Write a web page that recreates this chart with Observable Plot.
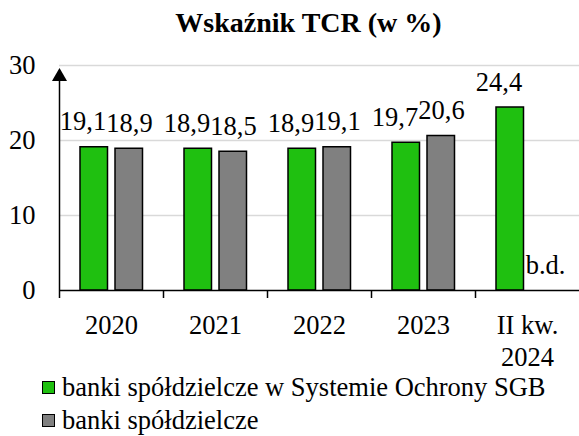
<!DOCTYPE html>
<html>
<head>
<meta charset="utf-8">
<script src="https://cdn.jsdelivr.net/npm/d3@7"></script>
<script src="https://cdn.jsdelivr.net/npm/@observablehq/plot@0.6"></script>
<style>
  html, body { margin: 0; padding: 0; background: #fff; }
  body { width: 579px; height: 436px; position: relative; overflow: hidden;
         font-family: "Liberation Serif", "Times New Roman", serif; color: #000; }
  #title { position: absolute; top: 3px; left: 38px; right: 0; text-align: center;
           font-weight: bold; font-size: 28px; line-height: 40px; }
  #chart { position: absolute; top: 48px; left: 0; }
  #legend { position: absolute; top: 371px; left: 42px; font-size: 26.5px; line-height: 33px; }
  .item { display: flex; align-items: center; white-space: nowrap; }
  .sw { width: 11px; height: 11px; border: 1.5px solid #000; margin-right: 7px; flex: none; }
</style>
</head>
<body>
<div id="title">Wskaźnik TCR (w %)</div>
<div id="chart"></div>
<div id="legend"></div>
<script>
const categories = ["2020", "2021", "2022", "2023", "II kw.\n2024"];
const sgbValues = [19.1, 18.9, 18.9, 19.7, 24.4];
const bankiValues = [18.9, 18.5, 19.1, 20.6, null];
const seriesNames = ["banki spółdzielcze w Systemie Ochrony SGB", "banki spółdzielcze"];
const seriesColors = ["#1fc010", "#808080"];
const yTicks = [0, 10, 20, 30];
const missingText = "b.d.";

const rows = categories.map((c, i) => ({category: c, sgb: sgbValues[i], banki: bankiValues[i]}));
const fmt = v => v.toFixed(1).replace(".", ",");
const font = '"Liberation Serif", "Times New Roman", serif';
const fs = 26.5;

const chart = Plot.plot({
  width: 579,
  height: 330,
  marginLeft: 59,
  marginRight: 0,
  marginTop: 17,
  marginBottom: 88,
  style: {fontFamily: font, fontSize: fs + "px", background: "white", color: "black"},
  x: {domain: categories, padding: 0, axis: null},
  y: {domain: [0, 30], axis: null},
  marks: [
    Plot.gridY(yTicks.filter(t => t > 0), {stroke: "#d9d9d9", strokeOpacity: 1, strokeWidth: 1.5}),
    Plot.barY(rows, {x: "category", y: "sgb", fill: seriesColors[0], stroke: "black", strokeWidth: 1.5,
                     insetLeft: 21, insetRight: 55.5}),
    Plot.barY(rows.filter(d => d.banki != null), {x: "category", y: "banki", fill: seriesColors[1],
                     stroke: "black", strokeWidth: 1.5, insetLeft: 56, insetRight: 20.5}),
    Plot.text(rows, {x: "category", y: "sgb", text: d => fmt(d.sgb), dx: -28.5, dy: -17,
                     lineAnchor: "bottom", fontSize: fs}),
    Plot.text(rows, {x: "category", y: d => d.banki ?? 0,
                     text: d => d.banki == null ? missingText : fmt(d.banki),
                     dx: 18, dy: -17, lineAnchor: "bottom", fontSize: fs}),
    Plot.ruleY([0], {stroke: "black", strokeWidth: 1.5}),
    Plot.ruleX([categories[0]], {dx: -52, y1: 0, y2: 28.5, stroke: "black", strokeWidth: 1.5}),
    Plot.dot([28.5], {y: d => d, frameAnchor: "left", symbol: "triangle", r: 5.6, fill: "black", stroke: null}),
    Plot.axisX({tickSize: 8, tickFormat: () => "", label: null, dx: -52, stroke: "black", strokeWidth: 1.5}),
    Plot.axisX({tickSize: 0, tickPadding: 20.5, label: null, fontSize: fs, lineHeight: 1.22}),
    Plot.axisY({ticks: yTicks, tickSize: 0, tickPadding: 24, label: null, fontSize: fs})
  ]
});
document.getElementById("chart").appendChild(chart);

const legend = document.getElementById("legend");
seriesNames.forEach((name, i) => {
  const item = document.createElement("div");
  item.className = "item";
  const sw = document.createElement("span");
  sw.className = "sw";
  sw.style.background = seriesColors[i];
  const label = document.createElement("span");
  label.textContent = name;
  item.appendChild(sw);
  item.appendChild(label);
  legend.appendChild(item);
});
</script>
</body>
</html>
